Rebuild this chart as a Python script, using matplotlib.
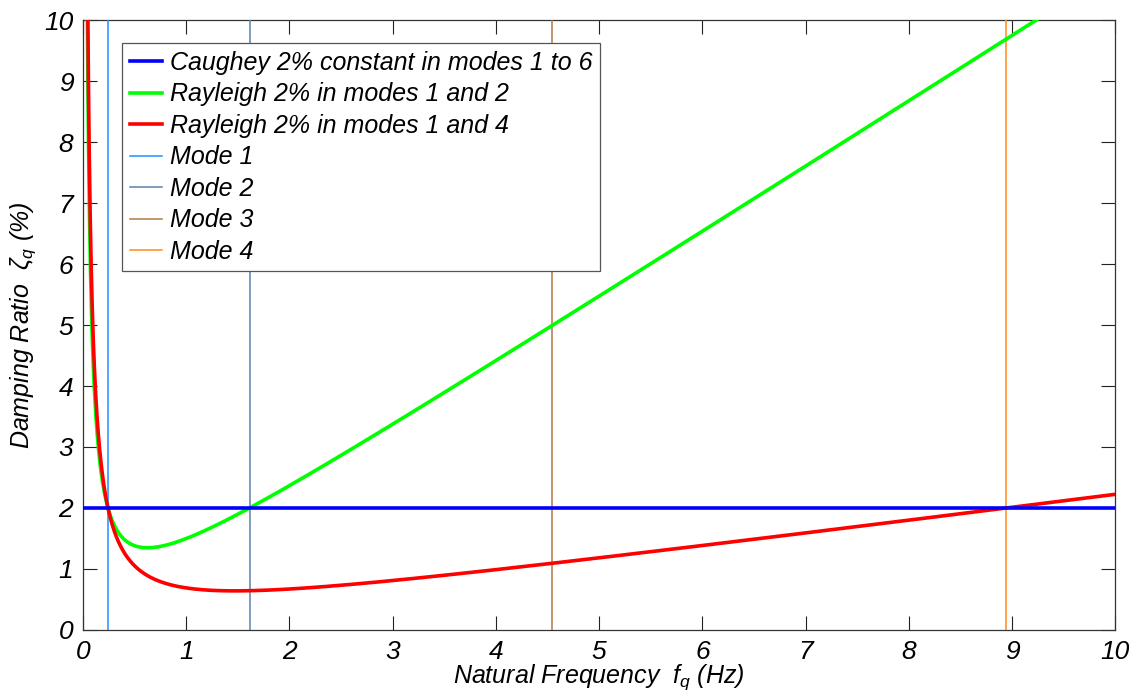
import numpy as np
import matplotlib.pyplot as plt

# Natural frequencies of the first four modes (Hz)
mode_freqs = [0.242, 1.613, 4.545, 8.945]
mode_labels = ["Mode 1", "Mode 2", "Mode 3", "Mode 4"]
mode_colors = ["#1e90ff", "#5a82aa", "#b07a48", "#ff8c1a"]

target_zeta = 2.0  # percent
x_ticks = [0, 1, 2, 3, 4, 5, 6, 7, 8, 9, 10]
y_ticks = [0, 1, 2, 3, 4, 5, 6, 7, 8, 9, 10]


def rayleigh_curve(f, fi, fj, zeta):
    # zeta(f) for Rayleigh damping fitted to zeta at fi and fj
    a = zeta * 2.0 * fi * fj / (fi + fj)
    b = zeta * 2.0 / (fi + fj)
    return a / (2.0 * f) + b * f / 2.0


plt.rcParams["font.family"] = ["Liberation Sans", "DejaVu Sans"]
plt.rcParams["font.style"] = "italic"
plt.rcParams["mathtext.fontset"] = "custom"
plt.rcParams["mathtext.it"] = "Liberation Sans:italic"
plt.rcParams["mathtext.rm"] = "Liberation Sans:italic"

fig = plt.figure(figsize=(11.37, 6.93), dpi=100)
ax = fig.add_axes([0.073, 0.091, 0.908, 0.880])

f = np.linspace(0.005, 10, 4000)
ax.plot([0, 10], [target_zeta, target_zeta], color="#0000ff", lw=2.6,
        label="Caughey 2% constant in modes 1 to 6", zorder=5)
ax.plot(f, rayleigh_curve(f, mode_freqs[0], mode_freqs[1], target_zeta),
        color="#00ff00", lw=2.6, label="Rayleigh 2% in modes 1 and 2", zorder=4)
ax.plot(f, rayleigh_curve(f, mode_freqs[0], mode_freqs[3], target_zeta),
        color="#ff0000", lw=2.6, label="Rayleigh 2% in modes 1 and 4", zorder=4)
for fr, lab, col in zip(mode_freqs, mode_labels, mode_colors):
    ax.axvline(fr, color=col, lw=1.1, label=lab, zorder=3)

ax.set_xlim(0, 10)
ax.set_ylim(0, 10)
ax.set_xticks(x_ticks)
ax.set_yticks(y_ticks)
ax.tick_params(direction="in", length=10, width=0.8, top=True, right=True,
               labelsize=19, pad=7, colors="#222222")
for lbl in ax.get_xticklabels() + ax.get_yticklabels():
    lbl.set_color("black")
for sp in ax.spines.values():
    sp.set_color("#333333")
    sp.set_linewidth(0.9)

ax.set_xlabel(r"Natural Frequency  $f_q$ (Hz)", fontsize=18, labelpad=-1)
ax.set_ylabel(r"Damping Ratio  $\zeta_q$ (%)", fontsize=18, labelpad=4)

leg = ax.legend(loc="upper left", bbox_to_anchor=(0.038, 0.962), fontsize=18,
                frameon=True, fancybox=False, framealpha=1, edgecolor="#555555",
                handlelength=1.3, handletextpad=0.3, labelspacing=0.3,
                borderpad=0.3, borderaxespad=0)
leg.get_frame().set_linewidth(0.9)

fig.savefig("out.png", dpi=100)
